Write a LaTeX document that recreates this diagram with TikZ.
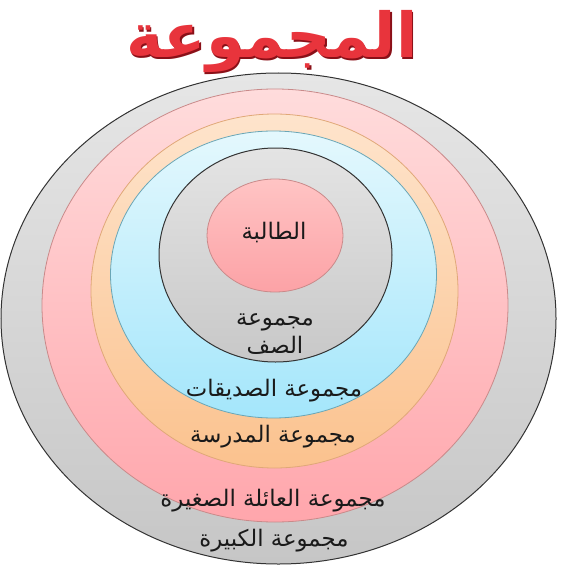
\documentclass[tikz,border=0pt]{standalone}
\usepackage{fontspec}
\newfontfamily\arabicfont[Script=Arabic]{DejaVu Sans}
\TeXXeTstate=1
\usetikzlibrary{shapes.geometric}
\definecolor{outerline}{HTML}{333333}
\definecolor{pinkline}{HTML}{C98A8A}
\definecolor{orangeline}{HTML}{E0A878}
\definecolor{blueline}{HTML}{6AA6B6}
\definecolor{titlered}{HTML}{E8343C}
\definecolor{titledark}{HTML}{8A1018}
\definecolor{labeltext}{HTML}{1A1A1A}
\definecolor{graytop}{HTML}{E6E6E6}
\definecolor{graybot}{HTML}{C6C6C6}
\definecolor{pinktop}{HTML}{FFDCDC}
\definecolor{pinkbot}{HTML}{FFA6AC}
\definecolor{orangetop}{HTML}{FEE4CC}
\definecolor{orangebot}{HTML}{FBC28E}
\definecolor{bluetop}{HTML}{E4F8FD}
\definecolor{bluebot}{HTML}{A4E6FB}
\definecolor{igraytop}{HTML}{E4E4E4}
\definecolor{igraybot}{HTML}{C8C8C8}
\definecolor{ipinktop}{HTML}{FFC4C4}
\definecolor{ipinkbot}{HTML}{FCA2A6}
\begin{document}
\begin{tikzpicture}[x=1pt,y=-1pt,
  ring/.style={ellipse, inner sep=0pt, outer sep=0pt, line width=0.8pt},
  lbl/.style={font=\arabicfont\fontsize{22.8}{28}\selectfont, text=labeltext, inner sep=0pt, align=center},
  ttl/.style={font=\arabicfont\bfseries\fontsize{62}{70}\selectfont, inner sep=0pt}]
\useasboundingbox (0,0) rectangle (572,575);
% rings, outermost first
\node[ring, draw=outerline, line width=1pt, top color=graytop, bottom color=graybot,
      minimum width=555pt, minimum height=491pt] (big) at (278.5,318.5) {};
\node[ring, draw=pinkline, top color=pinktop, bottom color=pinkbot,
      minimum width=466pt, minimum height=433pt] (family) at (275,305.5) {};
\node[ring, draw=orangeline, top color=orangetop, bottom color=orangebot,
      minimum width=367pt, minimum height=354pt] (school) at (274.5,291) {};
\node[ring, draw=blueline, top color=bluetop, bottom color=bluebot,
      minimum width=326pt, minimum height=287pt] (friends) at (273.5,274.5) {};
\node[ring, draw=outerline, line width=1pt, top color=igraytop, bottom color=igraybot,
      minimum width=233pt, minimum height=214pt] (class) at (275.5,255) {};
\node[ring, draw=pinkline, top color=ipinktop, bottom color=ipinkbot,
      minimum width=136pt, minimum height=113pt] (student) at (275,235.5) {};
% labels
\node[lbl] (tstudent) at (274,233) {\beginR الطالبة\endR};
\node[lbl] (tclass) at (275,334) {\beginR مجموعة\endR\\\beginR الصف\endR};
\node[lbl] (tfriends) at (274,391) {\beginR مجموعة الصديقات\endR};
\node[lbl] (tschool) at (273,437) {\beginR مجموعة المدرسة\endR};
\node[lbl] (tfamily) at (273,501) {\beginR مجموعة العائلة الصغيرة\endR};
\node[lbl] (tbig) at (274,541) {\beginR مجموعة الكبيرة\endR};
% title
\node[ttl, text=titledark] (titleshadow) at (273.5,43.5) {\beginR المجموعة\endR};
\node[ttl, text=titlered] (title) at (272,42) {\beginR المجموعة\endR};
\end{tikzpicture}
\end{document}
